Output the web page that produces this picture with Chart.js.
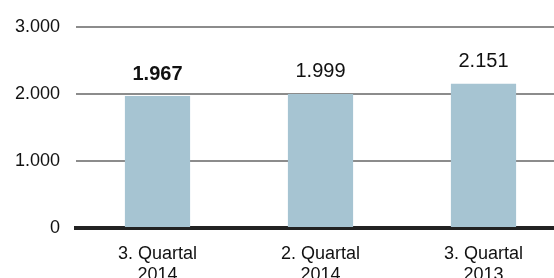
<!DOCTYPE html>
<html>
<head>
<meta charset="utf-8">
<script src="https://cdn.jsdelivr.net/npm/chart.js@4/dist/chart.umd.min.js"></script>
<style>
  html, body { margin: 0; padding: 0; background: #fff; overflow: hidden; }
  #wrap { width: 565px; height: 278px; position: relative; }
</style>
</head>
<body>
<div id="wrap"><canvas id="barChart"></canvas></div>
<script>
const categories = [["3. Quartal", "2014"], ["2. Quartal", "2014"], ["3. Quartal", "2013"]];
const values = [1967, 1999, 2151];
const boldLabel = [true, false, false];
const yTicks = [0, 1000, 2000, 3000];

const FONT = "'Liberation Sans', Arial, sans-serif";

function fmt(v) {
    return v.toLocaleString("de-DE");
}

const valueLabels = {
    id: "valueLabels",
    afterDatasetsDraw(chart) {
        const ctx = chart.ctx;
        const meta = chart.getDatasetMeta(0);
        ctx.save();
        ctx.fillStyle = "#111";
        ctx.textAlign = "center";
        ctx.textBaseline = "middle";
        meta.data.forEach((bar, i) => {
            ctx.font = (boldLabel[i] ? "bold " : "") + "20px " + FONT;
            ctx.fillText(fmt(values[i]), bar.x, bar.y - 22);
        });
        ctx.restore();
    }
};

function renderBarChart() {
    const ctx = document.getElementById("barChart");

    new Chart(ctx, {
        type: "bar",
        data: {
            labels: categories,
            datasets: [{
                data: values,
                backgroundColor: "#a6c4d2",
                barPercentage: 0.4,
                categoryPercentage: 1
            }]
        },
        options: {
            responsive: true,
            maintainAspectRatio: false,
            animation: false,
            layout: { padding: { top: 25, right: 0, bottom: 0, left: 0 } },
            plugins: { legend: { display: false }, tooltip: { enabled: false } },
            scales: {
                x: {
                    z: 1,
                    grid: { display: false, drawTicks: false },
                    border: { display: true, color: "#222", width: 4 },
                    ticks: {
                        color: "#111",
                        padding: 16,
                        maxRotation: 0,
                        font: { family: FONT, size: 18, lineHeight: 1.15 }
                    },
                    afterFit(scale) { scale.height = 50; }
                },
                y: {
                    min: 0,
                    max: 3000,
                    afterBuildTicks(scale) {
                        scale.ticks = yTicks.map(v => ({ value: v }));
                    },
                    grid: {
                        drawTicks: false,
                        lineWidth: 2,
                        color: c => (c.tick && c.tick.value === 0) ? "rgba(0,0,0,0)" : "#8c8c8c"
                    },
                    border: { display: false },
                    ticks: {
                        color: "#111",
                        padding: 16,
                        font: { family: FONT, size: 18 },
                        callback: v => fmt(v)
                    },
                    afterFit(scale) { scale.width = 76; }
                }
            }
        },
        plugins: [valueLabels]
    });
}

renderBarChart();
</script>
</body>
</html>
